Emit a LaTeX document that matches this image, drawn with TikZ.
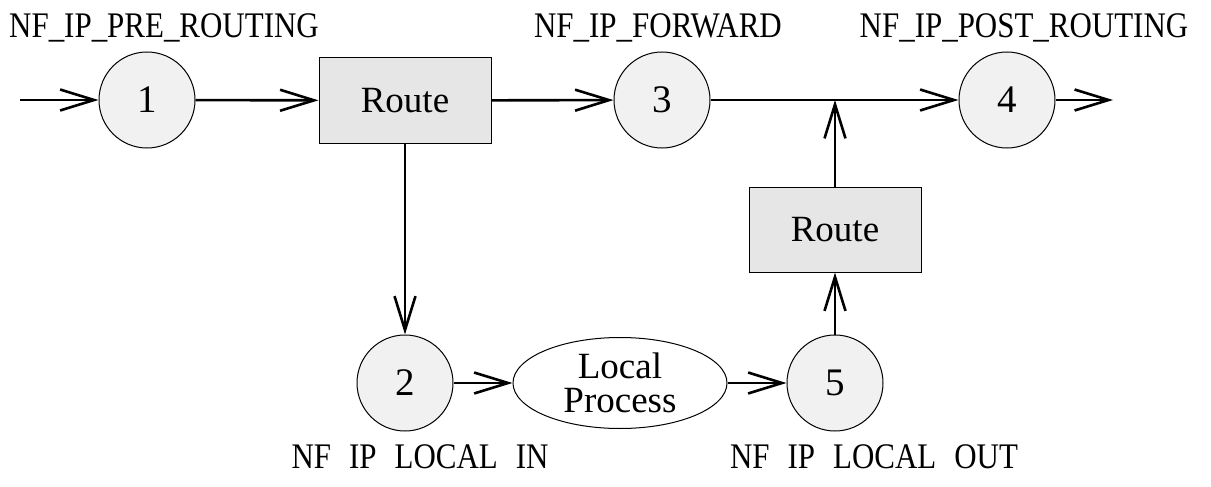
\documentclass[tikz,border=0pt]{standalone}
\usepackage{fontspec}
\setmainfont{Liberation Serif}
\newfontfamily\lblfont[FakeStretch=0.86]{Liberation Serif}
\usetikzlibrary{arrows.meta,shapes.geometric}
\definecolor{circfill}{HTML}{F1F1F1}
\definecolor{boxfill}{HTML}{E6E6E6}
\newcommand\wgap{\hspace{0.5em}}
\begin{document}
\begin{tikzpicture}[x=1pt,y=-1pt,
  hook/.style={circle,draw,line width=1pt,fill=circfill,minimum size=96pt,inner sep=0pt,font=\fontsize{39}{42}\selectfont},
  routebox/.style={rectangle,draw,line width=1pt,fill=boxfill,minimum width=172pt,minimum height=85pt,inner sep=0pt,font=\fontsize{37}{40}\selectfont},
  proc/.style={ellipse,draw,line width=1pt,fill=white,minimum width=214pt,minimum height=91pt,inner sep=0pt,align=center,font=\fontsize{37}{34}\selectfont},
  lbl/.style={anchor=base,inner sep=0pt,font=\lblfont\fontsize{36}{40}\selectfont},
  flow/.style={line width=2.6pt,-{Straight Barb[length=34pt,width=21pt]}}]
\useasboundingbox (0,0) rectangle (1211,487);
\node[hook] (c1) at (147,100) {1};
\node[hook] (c3) at (662,100) {3};
\node[hook] (c4) at (1007,100) {4};
\node[hook] (c2) at (405,383) {2};
\node[hook] (c5) at (835,383) {5};
\node[routebox] (r1) at (405,100.5) {Route};
\node[routebox] (r2) at (835,229.5) {Route};
\node[proc] (lp) at (620,383) {Local\\Process};
\coordinate (in) at (20,100);
\coordinate (out) at (1113,100);
\coordinate (j) at (835,100);
\node[lbl] (l1) at (164,38) {NF\_IP\_PRE\_ROUTING};
\node[lbl] (l3) at (658,38) {NF\_IP\_FORWARD};
\node[lbl] (l4) at (1024,38) {NF\_IP\_POST\_ROUTING};
\node[lbl] (l2) at (420,468) {NF\wgap IP\wgap LOCAL\wgap IN};
\node[lbl] (l5) at (874,468) {NF\wgap IP\wgap LOCAL\wgap OUT};
\draw[flow] (in) -- (c1);
\draw[flow] (c1) -- (r1);
\draw[flow] (r1) -- (c3);
\draw[flow] (c3) -- (c4);
\draw[flow] (c4) -- (out);
\draw[flow] (r1) -- (c2);
\draw[flow] (c2) -- (lp);
\draw[flow] (lp) -- (c5);
\draw[flow] (c5) -- (r2);
\draw[flow] (r2) -- (j);
\end{tikzpicture}
\end{document}
